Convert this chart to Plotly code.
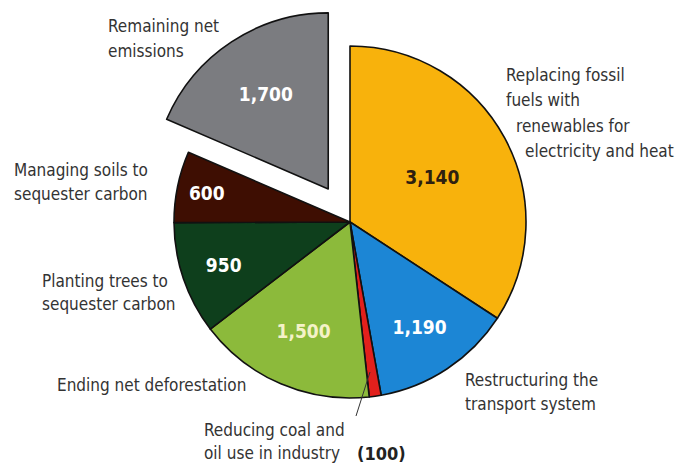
import plotly.graph_objects as go

categories = [
    "Replacing fossil fuels with renewables for electricity and heat",
    "Restructuring the transport system",
    "Reducing coal and oil use in industry",
    "Ending net deforestation",
    "Planting trees to sequester carbon",
    "Managing soils to sequester carbon",
    "Remaining net emissions",
]
values = [3140, 1190, 100, 1500, 950, 600, 1700]
colors = ["#F8B20C", "#1C86D5", "#E2201C", "#8CBA3B", "#0E3F1C", "#3E0E02", "#7B7C80"]
text_colors = ["#2E2010", "#FFFFFF", "#FFFFFF", "#F4F2C8", "#FFFFFF", "#FFFFFF", "#FFFFFF"]
pulls = [0, 0, 0, 0, 0, 0, 0.225]
shown_text = ["3,140", "1,190", "", "1,500", "950", "600", "1,700"]

W, H = 678, 466
FONT = "Liberation Sans Narrow, DejaVu Sans Condensed, Arial Narrow, sans-serif"

cx, cy, r = 350, 222, 176
maxpull = max(pulls)
half = r * (1 + maxpull)

fig = go.Figure(go.Pie(
    labels=categories,
    values=values,
    sort=False,
    direction="clockwise",
    rotation=0,
    pull=pulls,
    text=shown_text,
    textinfo="text",
    textposition="inside",
    insidetextorientation="horizontal",
    insidetextfont=dict(family=FONT, size=19, color=text_colors, weight="bold"),
    marker=dict(colors=colors, line=dict(color="#111111", width=1.6)),
    domain=dict(x=[(cx - half) / W, (cx + half) / W],
                y=[1 - (cy + half) / H, 1 - (cy - half) / H]),
    showlegend=False,
    hoverinfo="label+value",
))

# outside labels: (text lines, left x px, line center y px)
label_lines = [
    (["Remaining net", "emissions"], [106, 106], [26, 51]),
    (["Replacing fossil", "fuels with", "renewables for", "electricity and heat"],
     [504, 504, 514, 523], [75, 100, 126, 151]),
    (["Managing soils to", "sequester carbon"], [12, 12], [170, 194]),
    (["Planting trees to", "sequester carbon"], [40, 40], [281, 304]),
    (["Ending net deforestation"], [55], [385]),
    (["Reducing coal and", "oil use in industry"], [202, 202], [430, 453]),
    (["Restructuring the", "transport system"], [463, 463], [380, 404]),
]

annotations = []
for lines, xs, ys in label_lines:
    for t, x, y in zip(lines, xs, ys):
        annotations.append(dict(
            text=t, x=x / W, y=1 - y / H, xref="paper", yref="paper",
            xanchor="left", yanchor="middle", showarrow=False,
            font=dict(family=FONT, size=17, color="#333333"),
        ))
annotations.append(dict(
    text="<b>(%d)</b>" % values[2], x=355 / W, y=1 - 453 / H, xref="paper", yref="paper",
    xanchor="left", yanchor="middle", showarrow=False,
    font=dict(family=FONT, size=18, color="#222222"),
))

fig.update_layout(
    width=W, height=H,
    margin=dict(l=0, r=0, t=0, b=0),
    paper_bgcolor="white",
    plot_bgcolor="white",
    annotations=annotations,
    shapes=[dict(type="line", xref="paper", yref="paper",
                 x0=370 / W, y0=1 - 372 / H, x1=356 / W, y1=1 - 416 / H,
                 line=dict(color="#333333", width=1))],
)

fig.write_html("out.html", config={"displayModeBar": False},
               post_script="document.body.style.margin='0px';")
